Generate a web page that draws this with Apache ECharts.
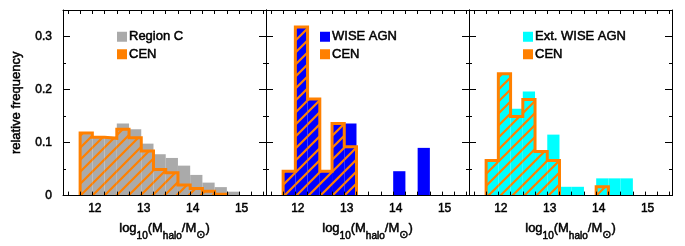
<!DOCTYPE html>
<html>
<head>
<meta charset="utf-8">
<script src="https://cdn.jsdelivr.net/npm/echarts@6/dist/echarts.min.js"></script>
<style>html,body{margin:0;padding:0;background:#fff;}#c{width:685px;height:246px;}</style>
</head>
<body>
<div id="c"></div>
<script>
// ---- data (histogram bins start at 11.75, width 0.25) ----
const binStart = 11.75;
const binWidth = 0.25;
const regionC    = [0.116, 0.110, 0.111, 0.136, 0.125, 0.098, 0.078, 0.071, 0.0565, 0.039, 0.0245, 0.016, 0.0074];
const cenRegionC = [0.118, 0.110, 0.108, 0.125, 0.109, 0.084, 0.049, 0.043, 0.020, 0.0135, 0.008, 0.0025];
const wiseAGN    = [0.046, 0.318, 0.182, 0.046, 0.136, 0.136, 0, 0, 0, 0.046, 0, 0.090];
const cenWise    = [0.046, 0.318, 0.182, 0.046, 0.136, 0.092];
const extWiseAGN = [0.066, 0.230, 0.164, 0.1965, 0.083, 0.115, 0.0166, 0.0166, 0, 0.0325, 0.0325, 0.0325];
const cenExtWise = [0.066, 0.230, 0.149, 0.181, 0.083, 0.066, 0, 0, 0, 0.0166];
const xTickLabels = [12, 13, 14, 15];
const xMinorTicks = [11.5, 11.75, 12, 12.25, 12.5, 12.75, 13, 13.25, 13.5, 13.75, 14, 14.25, 14.5, 14.75, 15, 15.25, 15.5];
const yTickLabels = [0, 0.1, 0.2, 0.3];
const yMinorTicks = [0.05, 0.15, 0.25];
const panelNames = ['Region C', 'WISE AGN', 'Ext. WISE AGN'];
const panelColors = ['#aaaaaa', '#0000ff', '#00ffff'];
const cenName = 'CEN';
const cenColor = '#ff8000';

const FONT = 'Liberation Sans, Arial, Helvetica, sans-serif';
const TB = { textBorderColor: '#000', textBorderWidth: 0.5 };

// hatch pattern
const pat = document.createElement('canvas');
const S = 12;
pat.width = S; pat.height = S;
const pc = pat.getContext('2d');
pc.strokeStyle = cenColor; pc.lineWidth = 2.2; pc.lineCap = 'square';
pc.beginPath();
pc.moveTo(-2, S + 2); pc.lineTo(S + 2, -2);
pc.moveTo(-2, 2); pc.lineTo(2, -2);
pc.moveTo(S - 2, S + 2); pc.lineTo(S + 2, S - 2);
pc.stroke();

function binData(vals) {
  return vals.map((v, i) => [binStart + i * binWidth, binStart + (i + 1) * binWidth, v]).filter(d => d[2] > 0);
}
function outline(vals) {
  const pts = []; let prev = 0;
  vals.forEach((v, i) => {
    const x0 = binStart + i * binWidth, x1 = x0 + binWidth;
    if (v > 0) {
      if (prev === 0) { if (pts.length) pts.push([x0, '-']); pts.push([x0, 0]); }
      pts.push([x0, v], [x1, v]);
    } else if (prev > 0) { pts.push([x0, 0]); }
    prev = v;
  });
  if (prev > 0) pts.push([binStart + vals.length * binWidth, 0]);
  return pts;
}
function rectRenderer(fill) {
  return function (params, api) {
    const a = api.coord([api.value(0), api.value(2)]);
    const b = api.coord([api.value(1), 0]);
    return { type: 'rect', shape: { x: a[0], y: a[1], width: b[0] - a[0], height: b[1] - a[1] }, style: { fill: fill } };
  };
}

const gridLefts = [63, 266, 469];
const grids = gridLefts.map(l => ({ left: l, top: 10, width: 203, height: 190 }));

const xAxes = [], yAxes = [], series = [], legends = [];
const panelVals = [regionC, wiseAGN, extWiseAGN];
const panelCen = [cenRegionC, cenWise, cenExtWise];
const legendLefts = [117, 320, 523];

const axisLine = { show: true, onZero: false, lineStyle: { color: '#000', width: 1 } };
for (let g = 0; g < 3; g++) {
  const common = { gridIndex: g, type: 'value', min: 11.4, max: 15.55, splitLine: { show: false }, z: 10 };
  xAxes.push(Object.assign({}, common, {
    position: 'bottom', axisLine: axisLine,
    axisTick: { show: true, inside: true, length: 4, customValues: xMinorTicks, lineStyle: { color: '#000' } },
    axisLabel: Object.assign({ show: true, customValues: xTickLabels, margin: 7, fontSize: 12, color: '#000', fontFamily: FONT, padding: [0, 0, 0, 5] }, TB),
    name: '{n|log}{s|10}{n|(M}{s|halo}{n|/M}{o|⊙}{n|)}',
    nameLocation: 'middle', nameGap: 21,
    nameTextStyle: {
      color: '#000', fontFamily: FONT,
      rich: {
        n: Object.assign({ fontSize: 13, lineHeight: 16, verticalAlign: 'top', color: '#000', fontFamily: FONT, padding: [2, 0, 0, 0] }, TB),
        s: Object.assign({ fontSize: 10, lineHeight: 20, verticalAlign: 'bottom', color: '#000', fontFamily: FONT }, TB),
        o: Object.assign({ fontSize: 11, lineHeight: 21, verticalAlign: 'bottom', color: '#000', fontFamily: 'DejaVu Sans' }, TB)
      }
    }
  }));
  xAxes.push(Object.assign({}, common, {
    position: 'top', axisLine: axisLine,
    axisTick: { show: true, inside: true, length: 4, customValues: xMinorTicks, lineStyle: { color: '#000' } },
    axisLabel: { show: false }
  }));
  const yc = { gridIndex: g, type: 'value', min: 0, max: 0.35, splitLine: { show: false }, z: 10 };
  ['left', 'right'].forEach(pos => {
    yAxes.push(Object.assign({}, yc, {
      position: pos, axisLine: axisLine,
      axisTick: { show: true, inside: true, length: 7, customValues: yTickLabels, lineStyle: { color: '#000' } },
      axisLabel: Object.assign({ show: g === 0 && pos === 'left', customValues: yTickLabels, margin: 11, fontSize: 12, color: '#000', fontFamily: FONT }, TB),
      name: (g === 0 && pos === 'left') ? 'relative frequency' : '',
      nameLocation: 'middle', nameGap: 40, nameRotate: 90,
      nameTextStyle: Object.assign({ fontSize: 13, color: '#000', fontFamily: FONT }, TB)
    }));
    yAxes.push(Object.assign({}, yc, {
      position: pos, axisLine: { show: false, onZero: false },
      axisTick: { show: true, inside: true, length: 3, customValues: yMinorTicks, lineStyle: { color: '#000' } },
      axisLabel: { show: false }
    }));
  });
  const xi = g * 2, yi = g * 4;
  series.push({
    type: 'custom', name: panelNames[g], xAxisIndex: xi, yAxisIndex: yi,
    renderItem: rectRenderer(panelColors[g]), encode: { x: [0, 1], y: 2 },
    itemStyle: { color: panelColors[g] }, data: binData(panelVals[g]), z: 2, silent: true
  });
  series.push({
    type: 'custom', name: cenName, xAxisIndex: xi, yAxisIndex: yi,
    renderItem: rectRenderer({ image: pat, repeat: 'repeat' }), encode: { x: [0, 1], y: 2 },
    itemStyle: { color: cenColor }, data: binData(panelCen[g]), z: 3, silent: true
  });
  series.push({
    type: 'line', name: cenName + ' outline', xAxisIndex: xi, yAxisIndex: yi,
    data: outline(panelCen[g]), symbol: 'none', connectNulls: false,
    lineStyle: { color: cenColor, width: 3, join: 'miter' }, z: 4, silent: true
  });
  legends.push({
    orient: 'vertical', left: legendLefts[g], top: 30, icon: 'rect', itemWidth: 10, itemHeight: 10, itemGap: 4,
    selectedMode: false, padding: 0,
    textStyle: Object.assign({ fontSize: 13, color: '#000', fontFamily: FONT, padding: [0, 0, 0, -3] }, TB),
    data: [{ name: panelNames[g], itemStyle: { color: panelColors[g] } }, { name: cenName, itemStyle: { color: cenColor } }]
  });
}

const chart = echarts.init(document.getElementById('c'), null, { renderer: 'canvas' });
chart.setOption({
  animation: false,
  textStyle: { fontFamily: FONT },
  grid: grids, xAxis: xAxes, yAxis: yAxes, series: series, legend: legends
});
</script>
</body>
</html>
